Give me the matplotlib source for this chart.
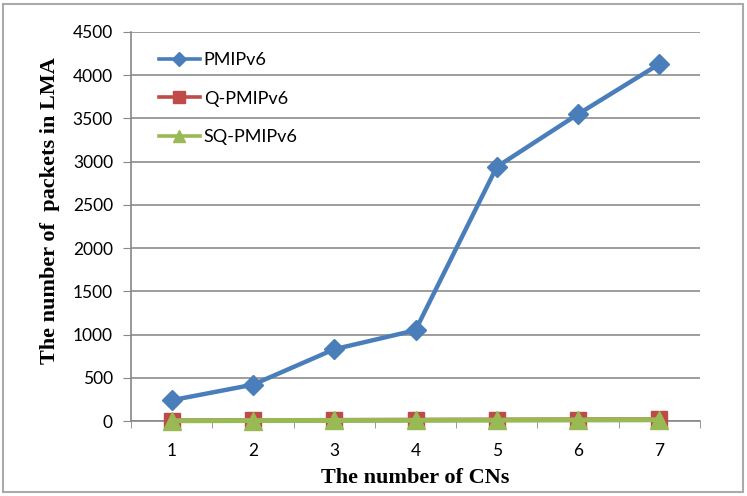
import matplotlib
matplotlib.use("Agg")
import matplotlib.pyplot as plt
from matplotlib.patches import Rectangle
import numpy as np

categories = [1, 2, 3, 4, 5, 6, 7]
pmipv6 = [240, 420, 830, 1050, 2940, 3550, 4130]
q_pmipv6 = [5, 8, 10, 12, 14, 16, 18]
sq_pmipv6 = [3, 5, 6, 8, 10, 12, 14]
yticks = [0, 500, 1000, 1500, 2000, 2500, 3000, 3500, 4000, 4500]

fig = plt.figure(figsize=(7.47, 4.96), dpi=100)
ax = fig.add_axes([131/747, 1-421/496, (700-131)/747, (421-32)/496])

x = np.arange(len(categories))
ax.plot(x, pmipv6, color='#4a7ebb', lw=3.2, marker='D', ms=10, label='PMIPv6', zorder=3, clip_on=False)
ax.plot(x, q_pmipv6, color='#be4b48', lw=3.2, marker='s', ms=12, label='Q-PMIPv6', zorder=4, clip_on=False)
ax.plot(x, sq_pmipv6, color='#98b954', lw=3.6, marker='^', ms=13, label='SQ-PMIPv6', zorder=5, clip_on=False)

ax.set_xlim(-0.5, len(categories) - 0.5)
ax.set_ylim(0, 4500)
ax.set_yticks(yticks)
ax.set_yticklabels([str(v) for v in yticks], fontsize=12.5, family='Lato')
ax.set_xticks(x)
ax.set_xticklabels([str(c) for c in categories], fontsize=12.5, family='Lato')
ax.set_xticks(np.arange(-0.5, len(categories)), minor=True)
ax.tick_params(axis='x', which='major', length=0, pad=16)
ax.tick_params(axis='x', which='minor', length=5, color='#888888', direction='out')
ax.tick_params(axis='y', length=6, color='#888888', pad=7)

ax.grid(axis='y', color='#8c8c8c', lw=1.2)
ax.set_axisbelow(True)
for s in ['top', 'right']:
    ax.spines[s].set_visible(False)
for s in ['left', 'bottom']:
    ax.spines[s].set_color('#888888')
    ax.spines[s].set_linewidth(1.2)

ax.set_xlabel('The number of CNs', fontsize=16, fontweight='bold', family='Liberation Serif', labelpad=6)
ax.set_ylabel('The number of  packets in LMA', fontsize=16, fontweight='bold', family='Liberation Serif')
ax.yaxis.set_label_coords(-0.125, 0.542)

leg = ax.legend(loc='upper left', bbox_to_anchor=(0.02, 0.99), frameon=False,
                prop={'family': 'Lato', 'size': 13}, handlelength=2.3, labelspacing=1.25, handletextpad=0.2,
                markerscale=0.7)
for h in leg.get_lines():
    h.set_linewidth(2.6)

fig.patches.append(Rectangle((3/747, 4/496), 740/747, 488/496, transform=fig.transFigure,
                             fill=False, edgecolor='#aaaaaa', lw=1.5))

fig.savefig('out.png', dpi=100)
